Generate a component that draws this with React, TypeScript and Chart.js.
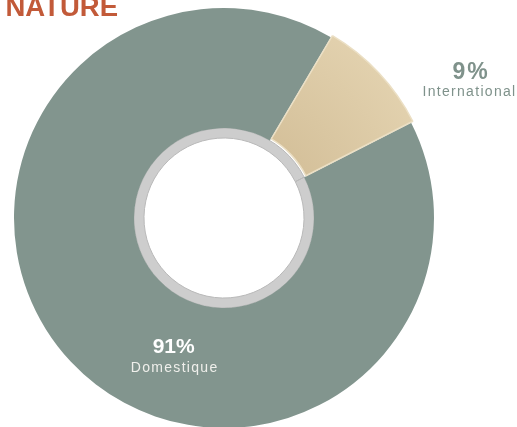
import React, { useEffect, useRef } from "react";
import { Chart, registerables } from "chart.js";

Chart.register(...registerables);

const categories = ["Domestique", "International"];
const shares = [91, 9];
const sliceColors = ["#82958e", "#dcc8a3"];
const title = "NATURE";

export default function App() {
  const canvasRef = useRef<HTMLCanvasElement | null>(null);

  useEffect(() => {
    if (!canvasRef.current) return;
    const chart = new Chart(canvasRef.current, {
      type: "doughnut",
      data: {
        labels: categories,
        datasets: [
          {
            data: shares,
            weight: 12,
            backgroundColor: (ctx: any) => {
              const i = ctx.dataIndex;
              if (i !== 1) return sliceColors[0];
              const c = ctx.chart;
              const area = c.chartArea;
              if (!area) return sliceColors[1];
              const cx = (area.left + area.right) / 2;
              const cy = (area.top + area.bottom) / 2;
              const g = c.ctx.createRadialGradient(cx, cy, 90, cx, cy, 215);
              g.addColorStop(0, "#d5c19b");
              g.addColorStop(1, "#e2d1ae");
              return g;
            },
            borderColor: ["#82958e", "#ebdfc4"],
            borderWidth: [0, 1.5],
            offset: [0, 6],
          } as any,
          {
            data: [1],
            weight: 1,
            backgroundColor: ["#cdcdcd"],
            borderColor: ["#b9b9b9"],
            borderWidth: 1,
          } as any,
        ],
      },
      options: {
        responsive: false,
        animation: false,
        events: [],
        rotation: 63,
        radius: 210,
        cutout: "38.1%",
        layout: { padding: { left: 0, right: 69, top: 9, bottom: 0 } },
        plugins: {
          legend: { display: false },
          tooltip: { enabled: false },
          title: { display: false },
        },
      } as any,
    });
    return () => chart.destroy();
  }, []);

  const base: React.CSSProperties = {
    position: "absolute",
    whiteSpace: "nowrap",
    lineHeight: 1,
    fontFamily: "'Liberation Sans', Arial, sans-serif",
  };

  return (
    <div style={{ position: "fixed", left: 0, top: 0, width: 517, height: 427, overflow: "hidden", background: "#ffffff" }}>
      <canvas ref={canvasRef} width={517} height={427} style={{ position: "absolute", left: 0, top: 0, display: "block" }} />
      <div style={{ ...base, left: 5.5, top: -6.6, fontSize: 27.5, fontWeight: 700, color: "#c25a39" }}>{title}</div>
      <div style={{ ...base, left: 421, width: 100, top: 59.5, textAlign: "center", fontSize: 23, fontWeight: 700, letterSpacing: 2, color: "#7f928b" }}>{shares[1]}%</div>
      <div style={{ ...base, left: 419.5, width: 100, top: 84.2, textAlign: "center", fontSize: 14, letterSpacing: 1.3, color: "#7f928b" }}>{categories[1]}</div>
      <div style={{ ...base, left: 123.7, width: 100, top: 334.9, textAlign: "center", fontSize: 21, fontWeight: 700, color: "#ffffff" }}>{shares[0]}%</div>
      <div style={{ ...base, left: 124.7, width: 100, top: 359.8, textAlign: "center", fontSize: 14, letterSpacing: 1.3, color: "#efefeb" }}>{categories[0]}</div>
    </div>
  );
}
